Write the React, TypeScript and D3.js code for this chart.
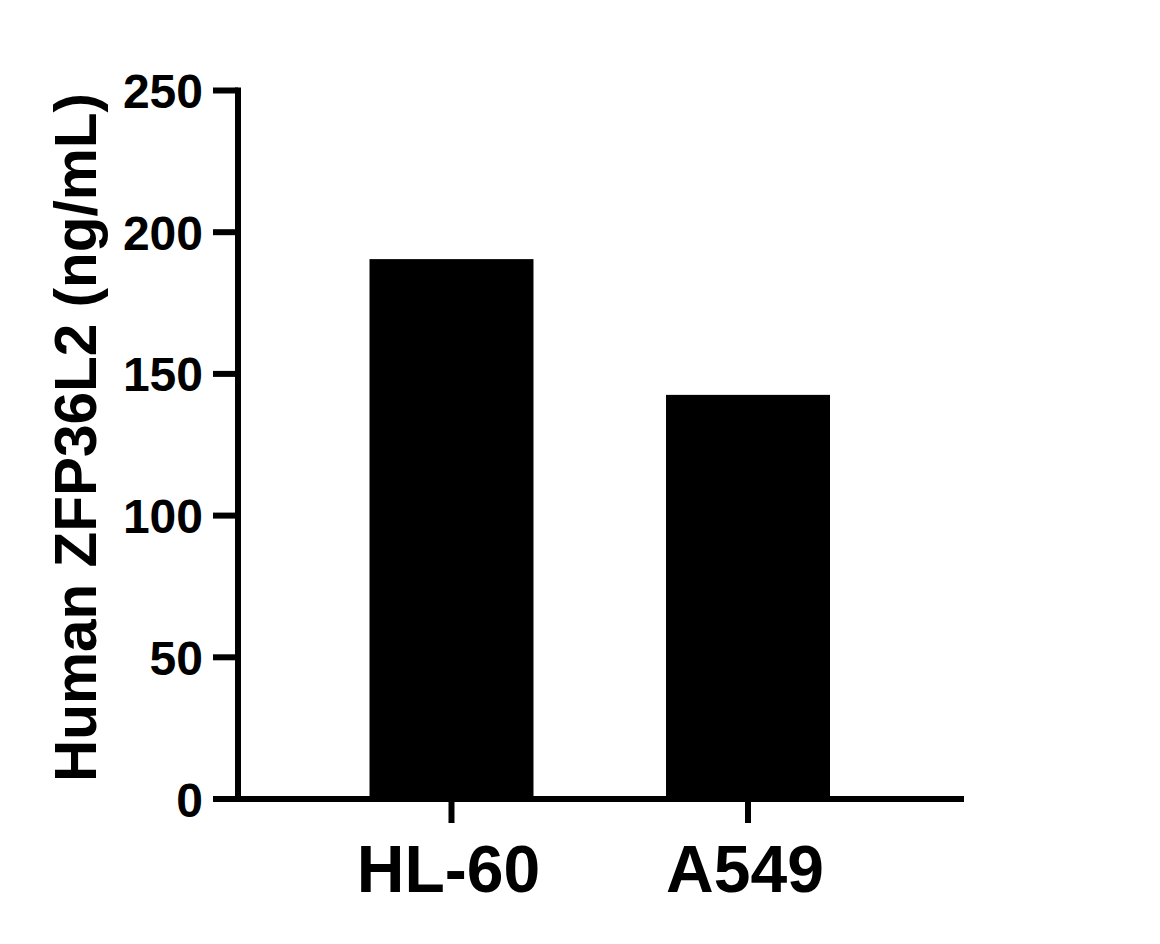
import React from "react";
import * as d3 from "d3";

const categories = ["HL-60", "A549"];
const values = [190.5, 142.6];
const yTicks = [0, 50, 100, 150, 200, 250];
const yTitle = "Human ZFP36L2 (ng/mL)";

export default function App() {
  const W = 1160;
  const H = 944;
  const y = d3.scaleLinear().domain([0, 250]).range([799, 90.5]);
  const x = d3
    .scaleBand<string>()
    .domain(categories)
    .range([238, 961.5])
    .paddingInner(0.447)
    .paddingOuter(0.4435);
  const bw = x.bandwidth();
  const font = "'Liberation Sans', Arial, Helvetica, sans-serif";
  return (
    <svg
      width={W}
      height={H}
      style={{ position: "absolute", left: 0, top: 0, background: "#fff" }}
      fontFamily={font}
      fontWeight="bold"
    >
      <rect x={0} y={0} width={W} height={H} fill="#fff" />
      {categories.map((c, i) => (
        <rect
          key={c}
          x={x(c)!}
          y={y(values[i])}
          width={bw}
          height={y(0) - y(values[i])}
          fill="#000"
        />
      ))}
      {/* y axis */}
      <line x1={238} x2={238} y1={y(250) - 3} y2={y(0) + 3} stroke="#000" strokeWidth={6} />
      {yTicks.map((t) => (
        <g key={t}>
          <line x1={213} x2={238} y1={y(t)} y2={y(t)} stroke="#000" strokeWidth={6} />
          <text x={203} y={y(t) + 17.5} textAnchor="end" fontSize={48} fill="#000">
            {t}
          </text>
        </g>
      ))}
      {/* x axis */}
      <line x1={235} x2={964} y1={y(0)} y2={y(0)} stroke="#000" strokeWidth={6} />
      {categories.map((c) => {
        const cx = x(c)! + bw / 2;
        return (
          <g key={c}>
            <line x1={cx} x2={cx} y1={y(0)} y2={y(0) + 24} stroke="#000" strokeWidth={6} />
            <text x={cx - 3} y={892} textAnchor="middle" fontSize={66} fill="#000">
              {c}
            </text>
          </g>
        );
      })}
      <text
        transform={`translate(96,437.5) rotate(-90)`}
        textAnchor="middle"
        fontSize={58.5}
        fill="#000"
      >
        {yTitle}
      </text>
    </svg>
  );
}
